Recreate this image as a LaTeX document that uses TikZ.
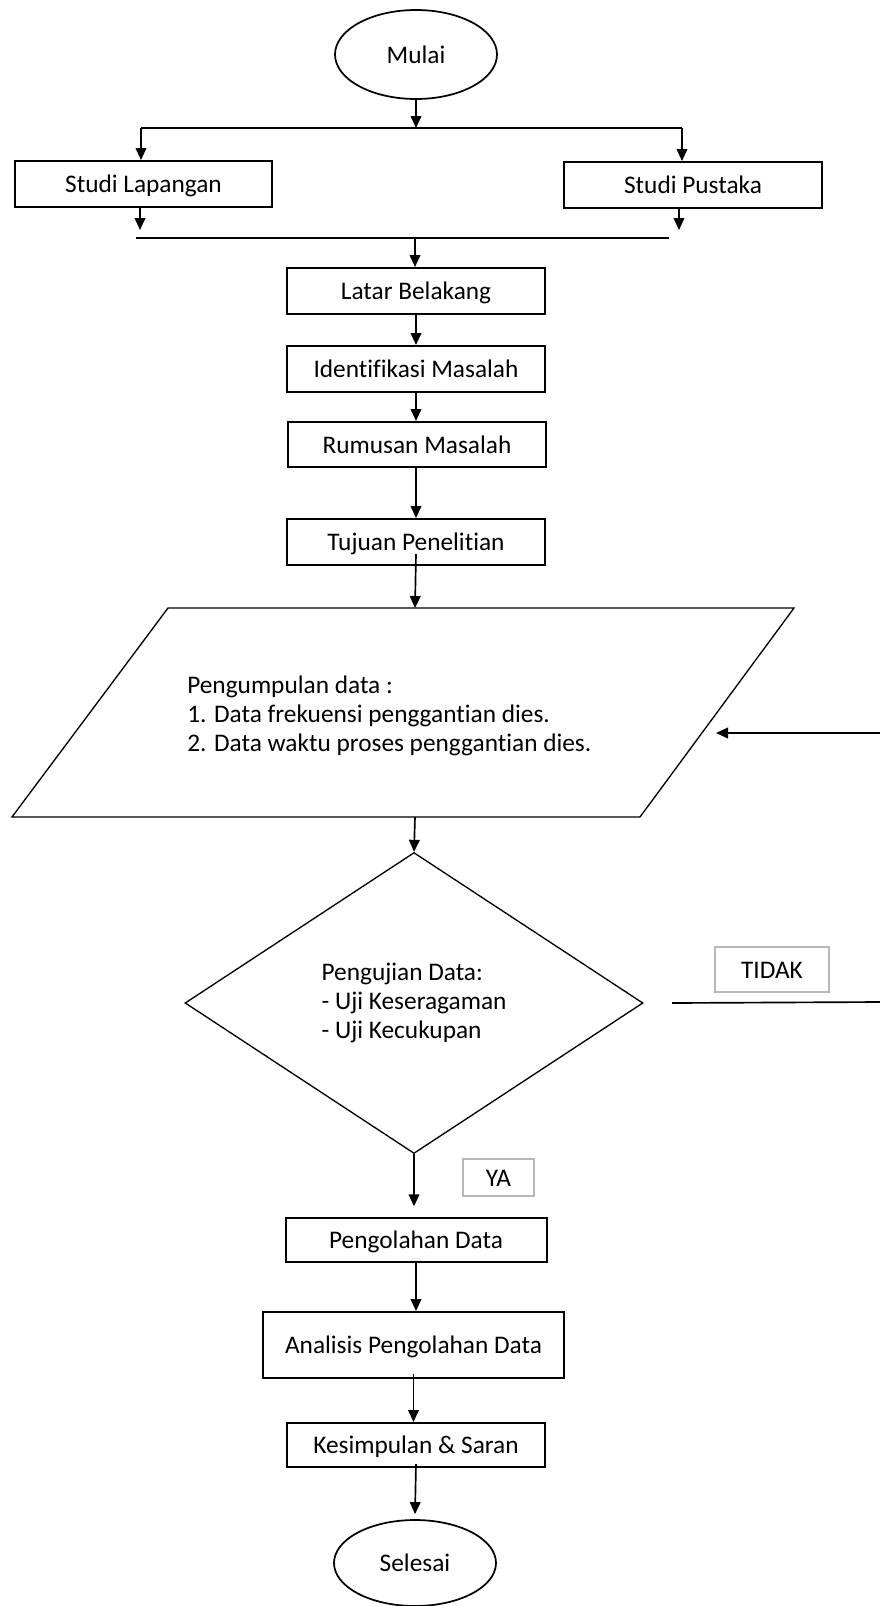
\documentclass[tikz,border=0pt]{standalone}
\usepackage{fontspec}
\setmainfont{Carlito}[Ligatures=NoCommon]
\usetikzlibrary{shapes.geometric,arrows.meta,calc}
\begin{document}
\begin{tikzpicture}[x=0.75pt,y=-0.75pt,
  font=\fontsize{19}{22}\selectfont,
  box/.style={draw,line width=1.5pt,rectangle,inner sep=0pt,align=center,text height=18pt,text depth=4.75pt},
  term/.style={draw,ellipse,line width=1.3pt,inner sep=0pt,text height=18pt,text depth=4.75pt},
  lbl/.style={draw=black!28,line width=1.3pt,rectangle,inner sep=0pt,text height=18pt,text depth=4.75pt},
  arr/.style={line width=1.25pt,-{Triangle[length=9pt,width=8pt]}},
  ln/.style={line width=1.25pt},
  shp/.style={line width=1pt}]
\useasboundingbox (0,0) rectangle (880,1606);

% nodes
\node[term,minimum width=121.5pt,minimum height=66.75pt] (mulai) at (416,54.5) {Mulai};
\node[box,minimum width=192.75pt,minimum height=34.5pt] (lap) at (143.5,184) {Studi Lapangan};
\node[box,minimum width=193.5pt,minimum height=34.5pt] (pus) at (693,185) {Studi Pustaka};
\node[box,minimum width=193.5pt,minimum height=34.5pt] (latar) at (416,291) {Latar Belakang};
\node[box,minimum width=193.5pt,minimum height=34.5pt] (ident) at (416,369) {Identifikasi Masalah};
\node[box,minimum width=193.5pt,minimum height=33.75pt] (rumus) at (417,444.5) {Rumusan Masalah};
\node[box,minimum width=193.5pt,minimum height=34.5pt] (tujuan) at (416,542) {Tujuan Penelitian};

% parallelogram
\coordinate (pa) at (168,608);
\coordinate (pb) at (794,608);
\coordinate (pc) at (640,817);
\coordinate (pd) at (12,817);
\draw[shp] (pa) -- (pb) -- (pc) -- (pd) -- cycle;
\node[align=left,inner sep=0pt,anchor=west] (ptext) at (187,716)
  {Pengumpulan data :\\1. Data frekuensi penggantian dies.\\2. Data waktu proses penggantian dies.};
\coordinate (ptop) at (415,608);
\coordinate (pbot) at (415,817);

% decision
\node[draw,diamond,shp,minimum width=343.5pt,minimum height=225.75pt,align=left,inner sep=0pt] (dia) at (414,1003)
  {Pengujian Data:\\- Uji Keseragaman\\- Uji Kecukupan};
\node[lbl,minimum width=85.5pt,minimum height=33.75pt] (tidak) at (772,969.5) {TIDAK};
\node[lbl,minimum width=53.25pt,minimum height=27.75pt] (ya) at (498.5,1177.5) {YA};

\node[box,minimum width=195.75pt,minimum height=33pt] (peng) at (416,1240) {Pengolahan Data};
\node[box,minimum width=225.75pt,minimum height=49.5pt] (anal) at (413.5,1345) {Analisis Pengolahan Data};
\node[box,minimum width=193.5pt,minimum height=33pt] (kes) at (416,1445) {Kesimpulan \& Saran};
\node[term,minimum width=121.5pt,minimum height=64.5pt] (sel) at (415,1563) {Selesai};

% top split
\coordinate (t1) at (416,128);
\coordinate (tl) at (141,128);
\coordinate (tr) at (682,128);
\draw[arr] (mulai.south) -- (t1);
\draw[ln] (tl) -- (tr);
\draw[arr] (tl) -- (tl |- lap.north);
\draw[arr] (tr) -- (tr |- pus.north);

% merge
\coordinate (bl) at (136,238);
\coordinate (br) at (669,238);
\coordinate (ba) at (140,230);
\coordinate (bb) at (679,230);
\coordinate (b1) at (415,238);
\draw[ln] (bl) -- (br);
\draw[arr] (ba |- lap.south) -- (ba);
\draw[arr] (bb |- pus.south) -- (bb);
\draw[arr] (b1) -- (b1 |- latar.north);

% main chain
\draw[arr] (latar.south) -- (latar.south |- ident.north);
\draw[arr] (ident.south) -- (ident.south |- rumus.north);
\draw[arr] (rumus.south -| tujuan.north) -- (tujuan.north);
\draw[arr] ([yshift=9pt]tujuan.south) -- (ptop);
\draw[arr] (pbot) -- (dia.north);
\coordinate (pg) at ([yshift=8pt]peng.north);
\draw[arr] (dia.south) -- (dia.south |- pg);
\draw[arr] (peng.south) -- (peng.south |- anal.north);
\draw[arr] ([yshift=3.75pt]anal.south) -- (anal.south |- kes.north);
\coordinate (sg) at ([yshift=3.75pt]sel.north);
\draw[arr] ([yshift=3pt]kes.south) -- (sg);

% loop back (TIDAK)
\coordinate (d1) at (672,1003);
\coordinate (e1) at (880,1002);
\coordinate (e2) at (880,733);
\coordinate (pin) at (716,733);
\draw[ln] (d1) -- (e1);
\draw[arr] (e2) -- (pin);
\end{tikzpicture}
\end{document}
